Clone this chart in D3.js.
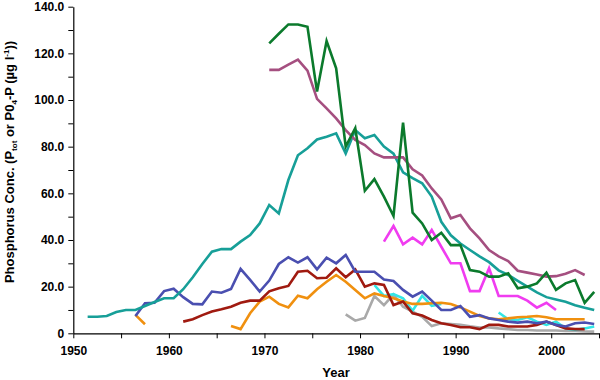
<!DOCTYPE html>
<html><head><meta charset="utf-8">
<script src="https://cdn.jsdelivr.net/npm/d3@7/dist/d3.min.js"></script>
<style>
body{margin:0;background:#fff;}
svg{display:block;font-family:"Liberation Sans",Arial,sans-serif;}
</style></head>
<body><svg id="c" width="600" height="380"></svg>
<script>
// ---- data ----
const tealStart = 1951;
const tealVals = [7.1,7.1,7.4,9.1,10,10,11.7,13.4,15,15,18.9,24,29.7,35,36.1,36.1,39.3,42.1,47.1,55,51.4,65.7,76.3,79.3,83.1,84.3,85.7,77.1,87.1,83.6,85,80,77,69,66.5,64.3,58.6,47.8,42,38.5,35.7,33,30.5,27,25,22.5,20,17.5,15.5,14.5,13.5,12,11,10];
const greenStart = 1970;
const greenVals = [124.3,128.4,132.4,132.4,131.4,103.6,125.3,113.6,80,87.9,61.1,66.1,58.6,50.3,90.3,51.7,47.1,40,43.1,37.8,37.8,27.1,26.4,24.3,24.3,25.7,19.3,20,21.4,26,18.6,21.4,22.8,13.1,17.8];
const mauveStart = 1970;
const mauveVals = [112.9,112.9,115.2,117.3,112.6,100.5,96.4,92.1,87.1,82.9,80.7,77.1,75.4,75.4,75.4,70.3,67.7,62.1,57.4,49.3,50.7,45,40.7,35.7,33,31,26.8,26,25.2,24.3,24.5,25.5,27.1,25];
const magentaStart = 1982;
const magentaVals = [39.3,46,38.1,41,38.1,44.3,37.1,30,30,18.1,18.1,27.9,16,16,16,14,11,13.1,10];
const blueStart = 1956;
const blueVals = [7.4,12.9,13.1,18.1,19.1,15.5,12.6,12.4,17.9,17.4,19,27.6,22.9,17.9,22.6,29.7,32.6,30.3,32.6,27.4,32.4,30,33.6,26.4,26.4,26.4,23.1,22.4,18.6,15.7,17.9,14,10,10,11.7,7.1,7.8,6.4,5.7,5,4.6,5,4.3,5,3.6,2.9,4.3,4.6,4];
const redStart = 1961;
const redVals = [5,6,7.8,9.3,10.3,11.4,13.1,14,14,18,19.3,20.3,26.4,26.8,23.6,23.8,27.9,24,27.4,20,21.4,20.7,12.1,13.6,8.6,7.6,5.7,4.3,3.6,2.6,2.6,1.8,3.6,3.6,2.9,2.9,2.9,3.6,5,3.6,2.1,1.8,1.8];
const orangeStart = 1956;
const orangeVals = [7.9,3.9,null,null,null,null,null,null,null,null,3.1,1.8,8.6,13.6,15.7,12.6,11.1,16.1,15,18.9,22.1,25,22.1,18.6,15,17.1,16,15,13.6,12.6,12.6,12.9,13.1,12.6,11.1,9.3,7.4,6.4,6,6.4,6.9,7.1,7.4,6.9,6,6,6,6];
const cyanStart = 1981;
const cyanVals = [20.7,16,16.8,15,9.7,16.1,11.8,12.6,null,null,null,null,null,8.9,6,5.7,6.9,5,3.6,5,2.1,1.4,2.1,2.9];
const grayStart = 1978;
const grayVals = [8.1,5.4,6.6,16,12.1,16.6,11.4,9.3,7.1,3.1,4.3,4,3.6,3,2.5,2.5,2.1,1.8,1.4,1.4,1.2,1.2,1.2,1,1,0.8,0.7];

const xTicks = d3.range(1950, 2006, 5);
const xLabels = [1950,1960,1970,1980,1990,2000];
const yTicks = d3.range(0, 141, 10);
const yLabels = [0,20,40,60,80,100,120,140];

const series = [
  {start: grayStart, vals: grayVals, color: "#a9a9a9"},
  {start: cyanStart, vals: cyanVals, color: "#33e6e6"},
  {start: orangeStart, vals: orangeVals, color: "#f0900f"},
  {start: redStart, vals: redVals, color: "#a01a10"},
  {start: blueStart, vals: blueVals, color: "#4a4fb0"},
  {start: magentaStart, vals: magentaVals, color: "#f03cf0"},
  {start: tealStart, vals: tealVals, color: "#179f98"},
  {start: mauveStart, vals: mauveVals, color: "#a54f80"},
  {start: greenStart, vals: greenVals, color: "#0b7a2c"}
];

// ---- chart ----
const svg = d3.select("#c");
const x = d3.scaleLinear().domain([1950, 2005]).range([73.3, 599]);
const y = d3.scaleLinear().domain([0, 140]).range([333.3, 6.7]);

const line = d3.line()
  .defined(d => d.v != null)
  .x(d => x(d.year + 0.5))
  .y(d => y(d.v));

series.forEach(s => {
  const pts = s.vals.map((v, i) => ({year: s.start + i, v}));
  svg.append("path").datum(pts)
    .attr("d", line)
    .attr("fill", "none")
    .attr("stroke", s.color)
    .attr("stroke-width", 2.6)
    .attr("stroke-linejoin", "miter");
});

const yAxis = d3.axisLeft(y).tickValues(yTicks).tickSize(5).tickSizeOuter(0).tickPadding(4)
  .tickFormat(d => yLabels.includes(d) ? (d === 0 ? "0" : d.toFixed(1)) : "");
const gy = svg.append("g").attr("transform", "translate(73.3,0)").call(yAxis);

const xAxis = d3.axisBottom(x).tickValues(xTicks).tickSize(5).tickSizeOuter(0).tickPadding(8)
  .tickFormat(d => xLabels.includes(d) ? String(d) : "");
const gx = svg.append("g").attr("transform", "translate(0,333.3)").call(xAxis);

[gx, gy].forEach(g => {
  g.selectAll("path.domain").attr("stroke", "#000").attr("stroke-width", 1.2);
  g.selectAll(".tick line").attr("stroke", "#000").attr("stroke-width", 1);
  g.selectAll("text").attr("fill", "#000").style("font-size", "12px").style("font-weight", "bold")
    .style("font-family", "'Liberation Sans', Arial, sans-serif");
});

svg.append("text").attr("x", 336).attr("y", 377).attr("text-anchor", "middle")
  .style("font-size", "13px").style("font-weight", "bold").text("Year");

const yt = svg.append("text").attr("transform", "translate(14,162) rotate(-90)")
  .attr("text-anchor", "middle").style("font-size", "13px").style("font-weight", "bold");
yt.append("tspan").text("Phosphorus Conc. (P");
yt.append("tspan").attr("dy", 3).style("font-size", "8px").text("tot");
yt.append("tspan").attr("dy", -3).text(" or P0");
yt.append("tspan").attr("dy", 3).style("font-size", "8px").text("4");
yt.append("tspan").attr("dy", -3).text("-P (µg l");
yt.append("tspan").attr("dy", -5).style("font-size", "8px").text("-1");
yt.append("tspan").attr("dy", 5).text("))");
</script></body></html>
